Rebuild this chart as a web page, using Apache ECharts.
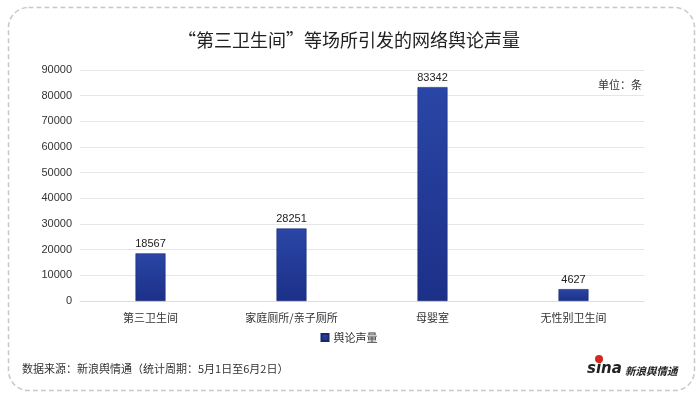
<!DOCTYPE html>
<html><head><meta charset="utf-8">
<script src="https://cdn.jsdelivr.net/npm/echarts@6/dist/echarts.min.js"></script>
<style>html,body{margin:0;padding:0;background:#fff}#c{width:698px;height:393px}</style>
</head><body><div id="c"></div>
<script>
const categories = ['第三卫生间', '家庭厕所/亲子厕所', '母婴室', '无性别卫生间'];
const values = [18567, 28251, 83342, 4627];
const seriesName = '舆论声量';
const yTicks = [0, 10000, 20000, 30000, 40000, 50000, 60000, 70000, 80000, 90000];

const FONT = '"Noto Sans CJK SC", sans-serif';
const chart = echarts.init(document.getElementById('c'), null, {renderer: 'canvas'});
chart.setOption({
  backgroundColor: '#fff',
  animation: false,
  title: {
    text: '“第三卫生间”等场所引发的网络舆论声量',
    left: 'center', top: 26,
    textStyle: {fontFamily: FONT, fontSize: 18, fontWeight: 'normal', color: '#222'}
  },
  legend: {
    data: [seriesName], bottom: 45, left: 'center',
    itemWidth: 7, itemHeight: 7, itemGap: 4, icon: 'rect',
    textStyle: {fontFamily: FONT, fontSize: 11, color: '#333'}
  },
  grid: {left: 80, right: 54, top: 70, bottom: 92},
  xAxis: {
    type: 'category', data: categories,
    axisLine: {show: true, lineStyle: {color: '#ddd'}},
    axisTick: {show: false},
    axisLabel: {fontFamily: FONT, fontSize: 11, color: '#333', margin: 11}
  },
  yAxis: {
    type: 'value', min: yTicks[0], max: yTicks[yTicks.length - 1], interval: 10000,
    axisLine: {show: false}, axisTick: {show: false},
    splitLine: {lineStyle: {color: '#e6e6e6', width: 1}},
    axisLabel: {fontFamily: '"Liberation Sans", Arial, sans-serif', fontSize: 11, color: '#333', margin: 8,
      formatter: v => String(v)}
  },
  series: [{
    name: seriesName, type: 'bar', data: values, barWidth: 30,
    itemStyle: {
      color: new echarts.graphic.LinearGradient(0, 0, 0, 1, [
        {offset: 0, color: '#2a46a6'}, {offset: 1, color: '#1c3088'}
      ]),
      borderColor: '#172870', borderWidth: 0.6
    },
    label: {show: true, position: 'top', distance: 4,
      fontFamily: '"Liberation Sans", Arial, sans-serif', fontSize: 11, color: '#222'}
  }],
  color: ['#1f3896'],
  graphic: [
    {type: 'rect', left: 6, top: 5, shape: {width: 686, height: 383, r: 20}, silent: true,
      style: {fill: 'none', stroke: '#c8c8c8', lineWidth: 1.5, lineDash: [5, 3]}},
    {type: 'text', left: 598, top: 79,
      style: {text: '单位：条', fontFamily: FONT, fontSize: 11, fill: '#333'}},
    {type: 'text', left: 22, top: 363,
      style: {text: '数据来源：新浪舆情通（统计周期：5月1日至6月2日）', fontFamily: FONT, fontSize: 11, fill: '#333'}},
    {type: 'text', left: 587, top: 362,
      style: {text: 'sina', fontFamily: '"DejaVu Sans", sans-serif', fontSize: 15, fontWeight: 'bold', fontStyle: 'italic', fill: '#222'}},
    {type: 'circle', shape: {cx: 599, cy: 359, r: 4}, style: {fill: '#d5281b'}},
    {type: 'text', left: 625, top: 366,
      style: {text: '新浪舆情通', fontFamily: FONT, fontSize: 10.5, fontWeight: 'bold', fontStyle: 'italic', fill: '#222'}}
  ]
});
</script></body></html>
